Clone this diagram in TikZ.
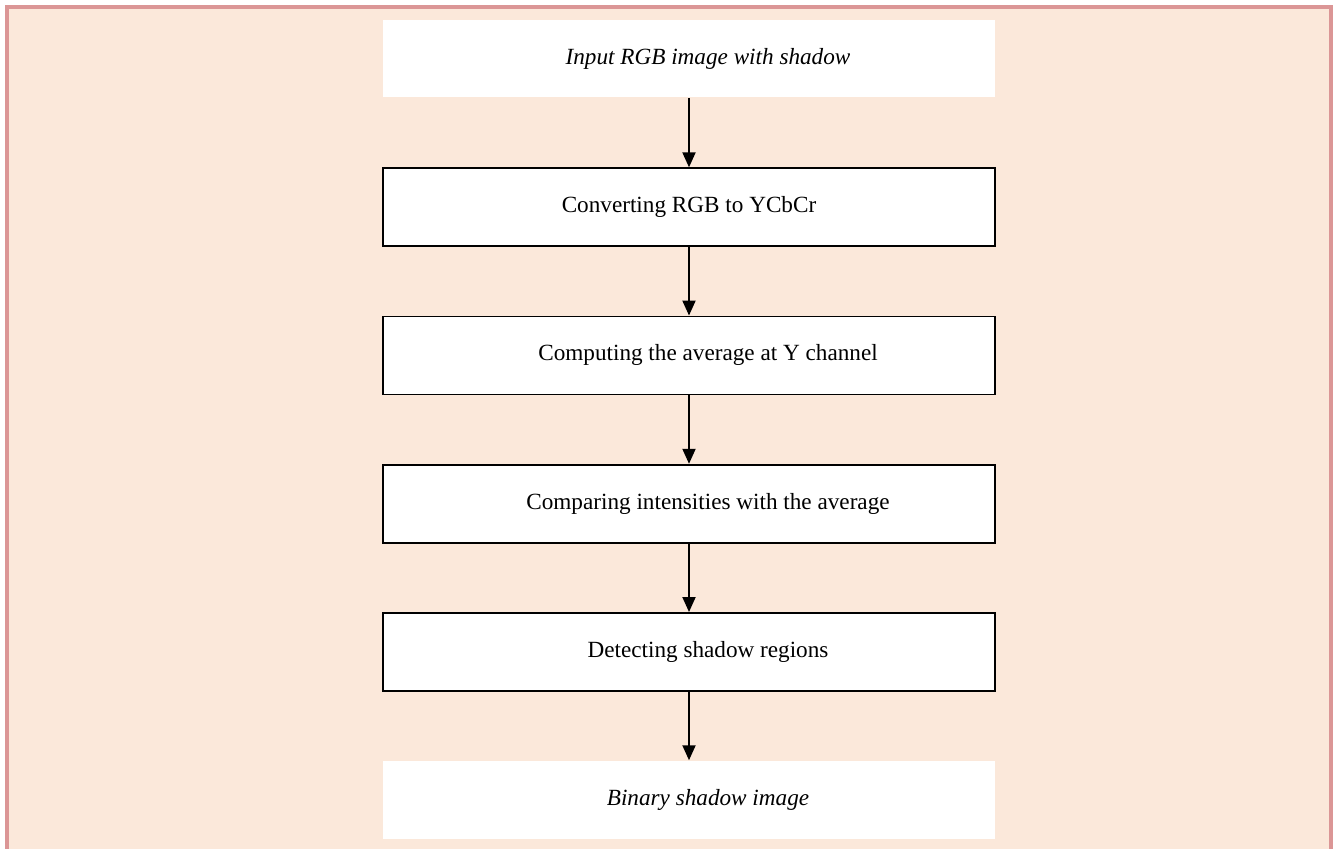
\documentclass[tikz,border=0pt]{standalone}
\usepackage{fontspec}
\setmainfont{Liberation Serif}
\usepackage{tikz}
\usetikzlibrary{positioning,arrows.meta}
\definecolor{pagefill}{RGB}{251,232,218}
\definecolor{framecolor}{RGB}{219,150,150}
\tikzset{
  stage/.style={draw, line width=1pt, fill=white, minimum height=1.56cm, minimum width=12.24cm, font=\fontsize{13.2}{15}\selectfont, align=center, inner sep=2pt},
  io/.style={fill=white, minimum height=1.56cm, minimum width=12.24cm, font=\fontsize{13.2}{15}\selectfont\itshape, align=center, inner sep=2pt},
  offc/.style={execute at begin node=\hspace*{7.6mm}},
  flow/.style={-{Triangle[length=3mm, width=2.6mm]}, line width=1.1pt},
}

\begin{document}
\begin{tikzpicture}[x=0.02cm, y=-0.02cm, node distance=1.37cm]
\useasboundingbox (0,0) rectangle (1334,848);
\draw[framecolor, line width=2pt, fill=pagefill] (7,7) rectangle (1331,880);
\node[io, offc] (input) at (689,58.5) {Input RGB image with shadow};
\node[stage, below=1.39cm of input] (convert) {Converting RGB to YCbCr};
\node[stage, offc, below=of convert] (average) {Computing the average at Y channel};
\node[stage, offc, below=of average] (compare) {Comparing intensities with the average};
\node[stage, offc, below=of compare] (detect) {Detecting shadow regions};
\node[io, offc, below=of detect] (output) {Binary shadow image};
\draw[flow] (input) -- (convert);
\draw[flow] (convert) -- (average);
\draw[flow] (average) -- (compare);
\draw[flow] (compare) -- (detect);
\draw[flow] (detect) -- (output);
\end{tikzpicture}
\end{document}
